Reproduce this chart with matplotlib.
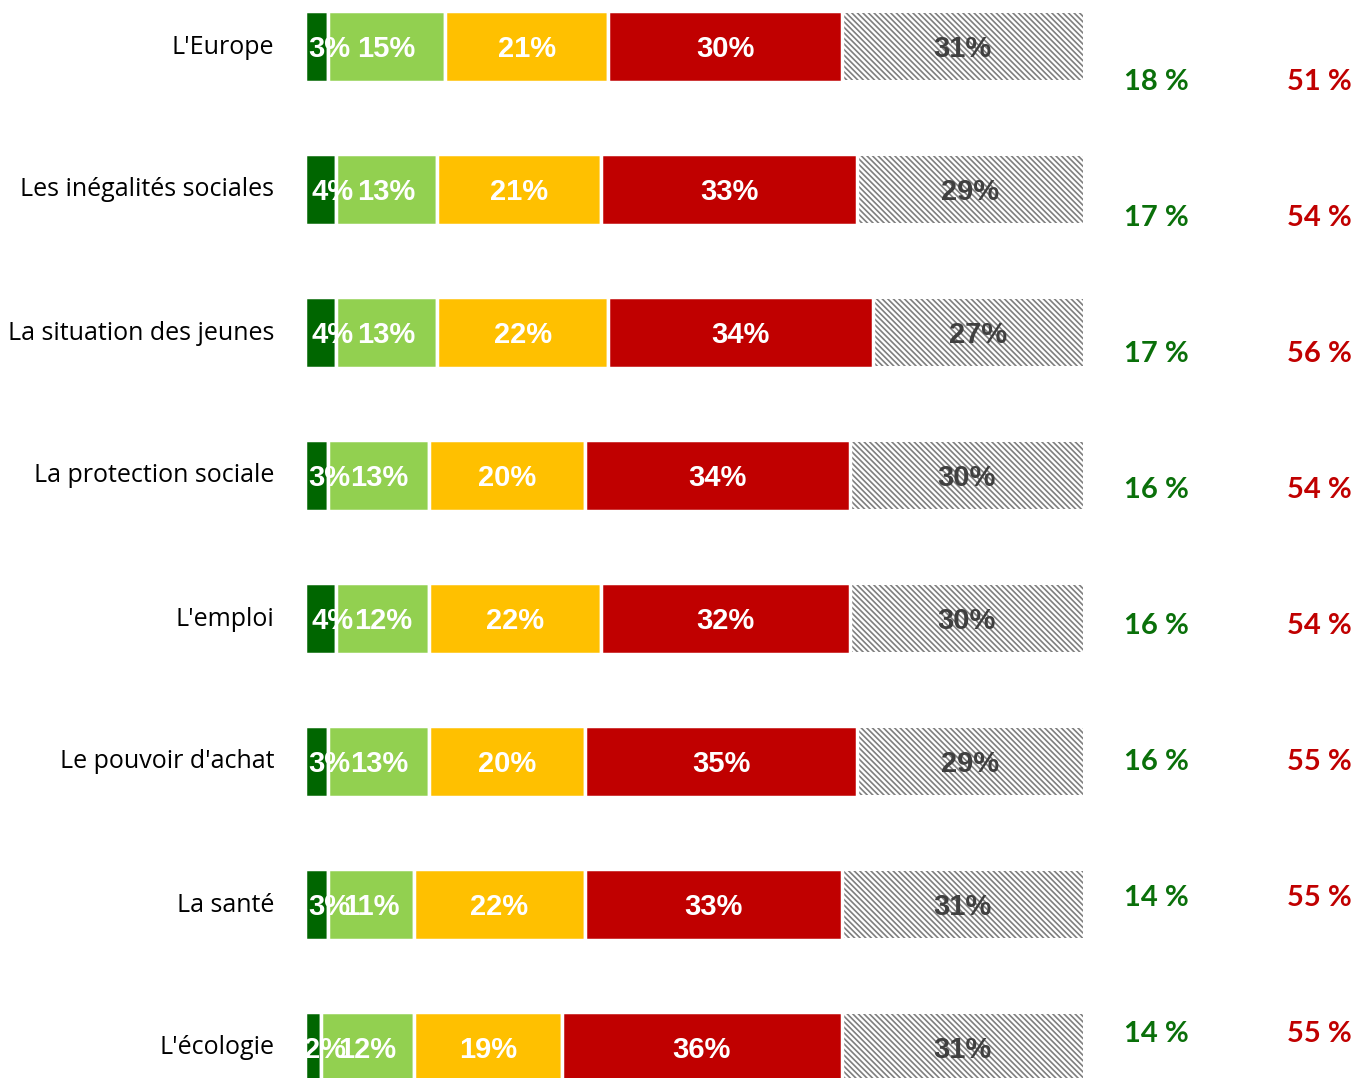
import matplotlib.pyplot as plt
import numpy as np

plt.rcParams['hatch.color'] = '#7f7f7f'
plt.rcParams['hatch.linewidth'] = 1.2

categories = ["L'Europe", "Les inégalités sociales", "La situation des jeunes",
              "La protection sociale", "L'emploi", "Le pouvoir d'achat",
              "La santé", "L'écologie"]
tres_bien = [3, 4, 4, 3, 4, 3, 3, 2]
assez_bien = [15, 13, 13, 13, 12, 13, 11, 12]
moyen = [21, 21, 22, 20, 22, 20, 22, 19]
mal = [30, 33, 34, 34, 32, 35, 33, 36]
nsp = [31, 29, 27, 30, 30, 29, 31, 31]
total_pos = [18, 17, 17, 16, 16, 16, 14, 14]
total_neg = [51, 54, 56, 54, 54, 55, 55, 55]

colors = ['#006600', '#92d050', '#ffc000', '#c00000']
series = [tres_bien, assez_bien, moyen, mal]

fig = plt.figure(figsize=(13.56, 10.78), dpi=100)
ax = fig.add_axes([305/1356, 0, 778/1356, 1])

y = np.arange(len(categories))
dy = 3/143  # labels sit a touch below bar centre
lbl = dict(fontsize=21, fontweight='bold', family='Liberation Sans',
           ha='center', va='center', zorder=3)
left = np.zeros(len(categories))
for k, (vals, c) in enumerate(zip(series, colors)):
    ax.barh(y, vals, left=left, height=70.5/143, color=c, edgecolor='white',
            linewidth=2.5, zorder=2)
    for yi, l, v in zip(y, left, vals):
        xc = l + v/2 + (1.6 if k == 0 else 0)
        ax.text(xc, yi + dy, f"{v}%", color='white', **lbl)
    left = left + np.array(vals)

ax.barh(y, nsp, left=left, height=67/143, color='white', edgecolor='#7f7f7f',
        linewidth=0, hatch='\\\\\\\\\\\\', zorder=1)
for yi, l, v in zip(y, left, nsp):
    ax.text(l + v/2, yi + dy, f"{v}%", color='#404040', **lbl)

ax.set_xlim(0, 100)
ax.set_ylim((1078-46.5)/143, -46.5/143)
ax.axis('off')

for i, cat in enumerate(categories):
    fig.text(274/1356, 1 - (47 + 143*i)/1078, cat, ha='right', va='center',
             fontsize=18, family='Open Sans')

for i, (p, n) in enumerate(zip(total_pos, total_neg)):
    yy = 1 - (82 + 136*i)/1078
    fig.text(1156/1356, yy, f"{p} %", ha='center', va='center', fontsize=21,
             fontweight='bold', color='#0a700a', family='Lato')
    fig.text(1352/1356, yy, f"{n} %", ha='right', va='center', fontsize=21,
             fontweight='bold', color='#c00000', family='Lato')

fig.savefig('out.png', dpi=100)
